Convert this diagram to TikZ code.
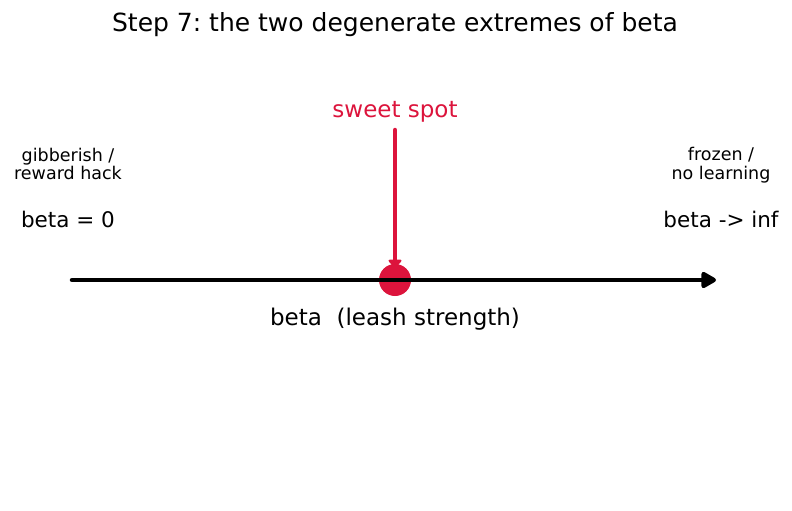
\documentclass[tikz,border=0pt]{standalone}
\usepackage{fontspec}
\setmainfont{DejaVu Sans}
\usetikzlibrary{arrows.meta}
\definecolor{crim}{HTML}{DC143C}
\frenchspacing
\begin{document}
\begin{tikzpicture}[x=1pt,y=-1pt,
  lbl/.style={anchor=base,inner sep=0pt,font=\fontsize{17.5}{20}\selectfont},
  big/.style={anchor=base,inner sep=0pt,font=\fontsize{21.5}{26}\selectfont},
  axisline/.style={line width=4.5pt,line cap=round,-{Triangle[length=17pt,width=18pt,round]}},
  spotarrow/.style={crim,line width=4.5pt,line cap=round,-{Triangle[length=9pt,width=15pt,round]}}]
\useasboundingbox (0,0) rectangle (792,511);
\node[anchor=base,inner sep=0pt,font=\fontsize{25}{30}\selectfont] (title) at (395,32) {Step 7: the two degenerate extremes of beta};
\coordinate (s0) at (395,130);
\coordinate (s1) at (395,268);
\node[anchor=base,inner sep=0pt,text=crim,font=\fontsize{23}{28}\selectfont] (spot) at (395,117) {sweet spot};
\draw[spotarrow] (s0) -- (s1);
\node[circle,fill=crim,minimum size=32pt,inner sep=0pt] (dot) at (395,280) {};
\coordinate (a0) at (72,280);
\coordinate (a1) at (716,280);
\draw[axisline] (a0) -- (a1);
\node[anchor=base,inner sep=0pt,font=\fontsize{23}{28}\selectfont] (axl) at (395,325) {beta\ \ (leash strength)};
\node[lbl] (l1) at (68,161) {gibberish /};
\node[lbl] (l2) at (68,179) {reward hack};
\node[big] (l3) at (68,227) {beta = 0};
\node[lbl] (r1) at (721,160) {frozen /};
\node[lbl] (r2) at (721,179) {no learning};
\node[big] (r3) at (721,227) {beta -> inf};
\end{tikzpicture}
\end{document}
